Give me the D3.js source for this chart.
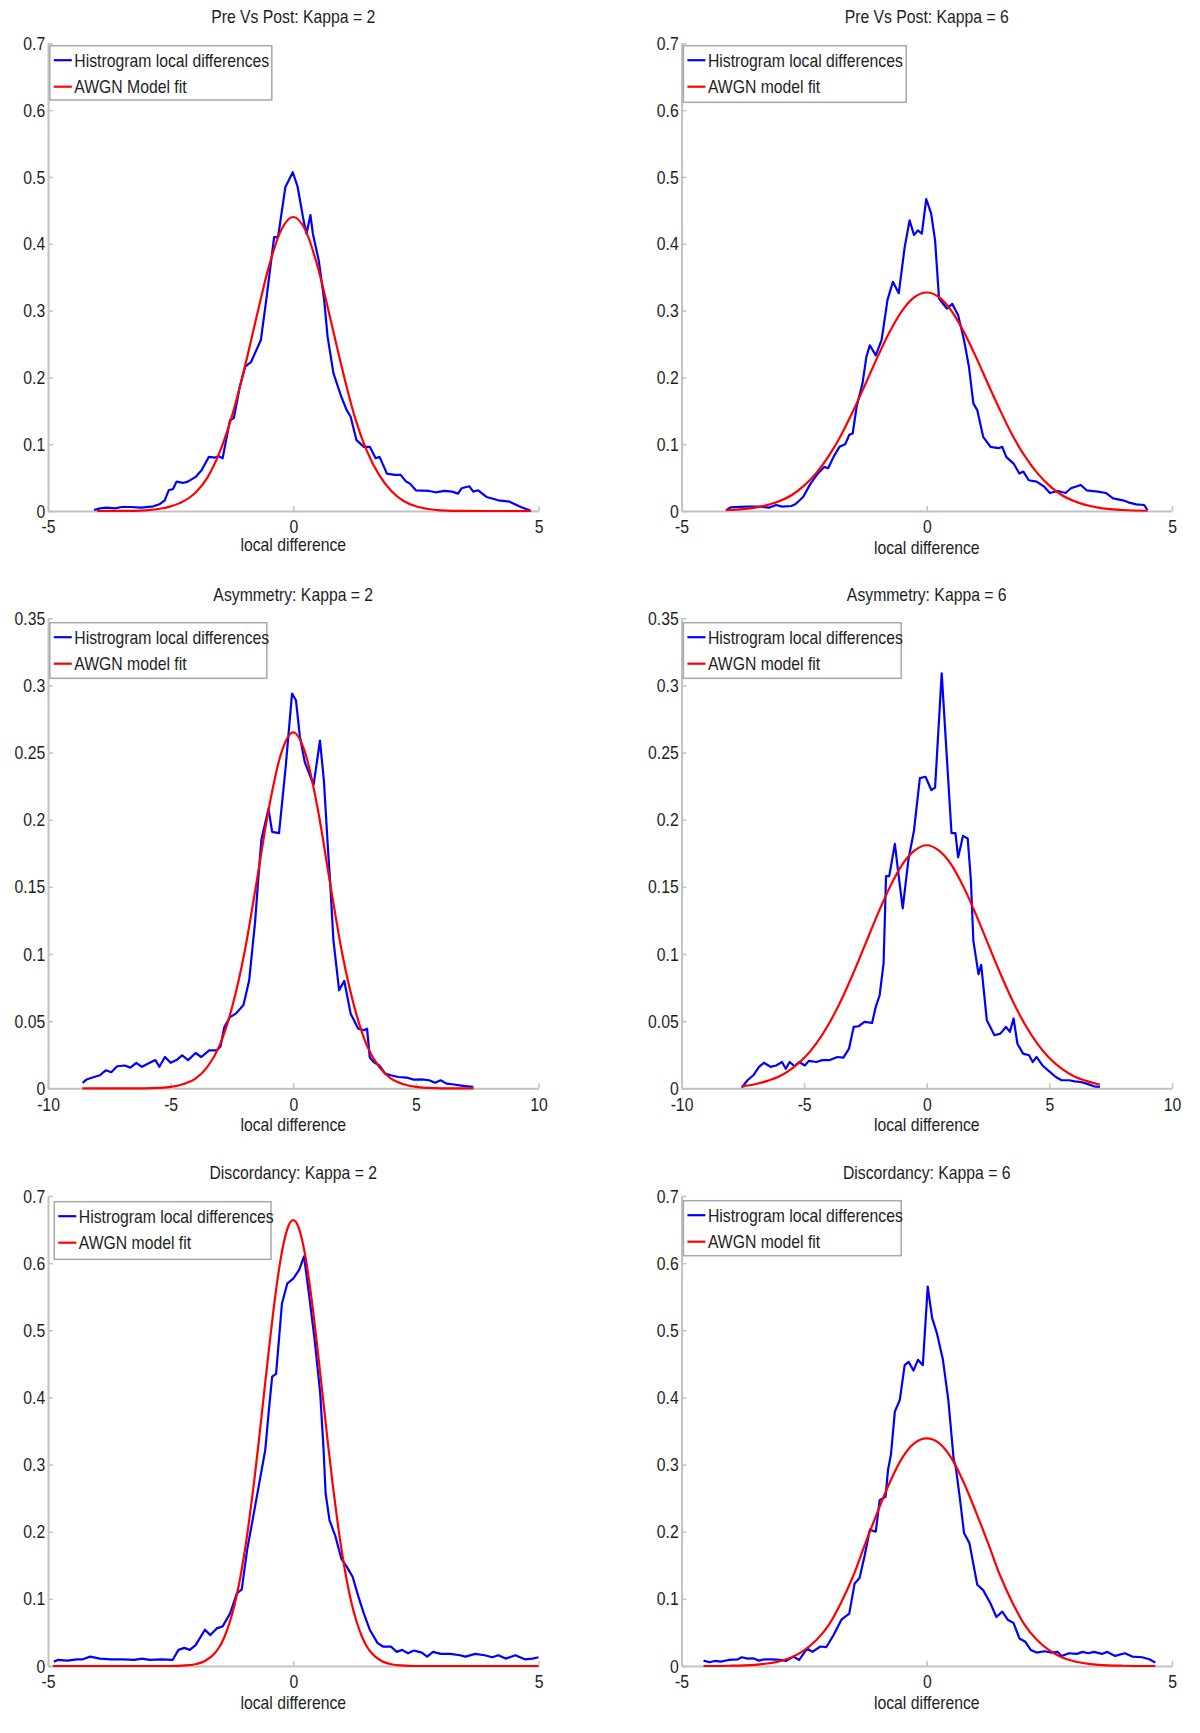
<!DOCTYPE html>
<html><head><meta charset="utf-8">
<script src="https://cdn.jsdelivr.net/npm/d3@7"></script>
<style>body{margin:0;background:#fff}</style>
</head><body><svg id="c" width="1200" height="1733"></svg>
<script>
// ---------------- DATA ----------------
const titles = ["Pre Vs Post: Kappa = 2","Pre Vs Post: Kappa = 6","Asymmetry: Kappa = 2","Asymmetry: Kappa = 6","Discordancy: Kappa = 2","Discordancy: Kappa = 6"];
const histLabels = ["Histrogram local differences","Histrogram local differences","Histrogram local differences","Histrogram local differences","Histrogram local differences","Histrogram local differences"];
const fitLabels = ["AWGN Model fit","AWGN model fit","AWGN model fit","AWGN model fit","AWGN model fit","AWGN model fit"];
const xLabel = "local difference";
const xTicks5 = [-5,0,5];
const xTicks10 = [-10,-5,0,5,10];
const yTicks07 = [0,0.1,0.2,0.3,0.4,0.5,0.6,0.7];
const yTicks035 = [0,0.05,0.1,0.15,0.2,0.25,0.3,0.35];

const hist1 = [[-4.06,0.0015],[-3.94,0.004],[-3.8,0.005],[-3.63,0.004],[-3.5,0.006],[-3.32,0.006],[-3.1,0.005],[-2.85,0.007],[-2.73,0.01],[-2.62,0.016],[-2.54,0.031],[-2.45,0.033],[-2.38,0.044],[-2.25,0.042],[-2.15,0.044],[-1.99,0.051],[-1.87,0.061],[-1.72,0.081],[-1.6,0.08],[-1.52,0.082],[-1.44,0.079],[-1.29,0.136],[-1.21,0.139],[-1.09,0.186],[-0.98,0.216],[-0.86,0.223],[-0.66,0.256],[-0.55,0.316],[-0.39,0.41],[-0.31,0.41],[-0.16,0.485],[-0.01,0.507],[0.09,0.485],[0.21,0.435],[0.27,0.415],[0.35,0.443],[0.40,0.415],[0.52,0.375],[0.63,0.316],[0.70,0.261],[0.82,0.206],[0.98,0.171],[1.09,0.151],[1.17,0.141],[1.29,0.106],[1.44,0.096],[1.56,0.096],[1.68,0.079],[1.76,0.081],[1.91,0.056],[2.07,0.054],[2.19,0.054],[2.3,0.044],[2.38,0.041],[2.5,0.031],[2.77,0.03],[2.9,0.028],[3.08,0.03],[3.24,0.029],[3.36,0.026],[3.43,0.034],[3.59,0.037],[3.67,0.029],[3.77,0.031],[3.94,0.021],[4.18,0.016],[4.41,0.014],[4.64,0.006],[4.84,0.0005]];
const fit1 = [[-4,0],[-3.5,0.0001],[-3,0.001],[-2.75,0.003],[-2.5,0.007],[-2.25,0.014],[-2,0.027],[-1.75,0.05],[-1.5,0.088],[-1.25,0.142],[-1,0.212],[-0.75,0.29],[-0.5,0.365],[-0.25,0.42],[0,0.44],[0.25,0.42],[0.5,0.365],[0.75,0.29],[1,0.212],[1.25,0.142],[1.5,0.09],[1.75,0.054],[2,0.03],[2.25,0.015],[2.5,0.007],[2.75,0.003],[3,0.001],[3.5,0.0001],[4,0],[4.85,0]];

const hist2 = [[-4.08,0.0015],[-4.0,0.0055],[-3.69,0.0065],[-3.38,0.0065],[-3.22,0.005],[-3.07,0.009],[-2.95,0.0065],[-2.76,0.0075],[-2.68,0.01],[-2.52,0.021],[-2.37,0.041],[-2.21,0.057],[-2.09,0.066],[-2.01,0.064],[-1.9,0.081],[-1.78,0.096],[-1.66,0.1],[-1.58,0.114],[-1.51,0.116],[-1.43,0.156],[-1.31,0.191],[-1.23,0.231],[-1.16,0.248],[-1.04,0.233],[-0.92,0.256],[-0.8,0.316],[-0.69,0.343],[-0.57,0.326],[-0.45,0.395],[-0.35,0.435],[-0.26,0.413],[-0.18,0.42],[-0.1,0.415],[-0.01,0.467],[0.09,0.445],[0.17,0.405],[0.25,0.318],[0.41,0.303],[0.52,0.31],[0.64,0.293],[0.76,0.256],[0.86,0.216],[0.95,0.161],[1.03,0.151],[1.15,0.111],[1.3,0.096],[1.46,0.094],[1.54,0.096],[1.62,0.081],[1.77,0.071],[1.89,0.056],[1.97,0.059],[2.08,0.046],[2.24,0.044],[2.4,0.036],[2.51,0.027],[2.67,0.03],[2.83,0.027],[2.94,0.034],[3.14,0.039],[3.26,0.031],[3.49,0.029],[3.65,0.027],[3.8,0.019],[4.0,0.016],[4.11,0.013],[4.27,0.01],[4.43,0.009],[4.5,0.0015]];
const fit2 = [[-4.1,0.0012],[-4,0.0015],[-3.5,0.005],[-3,0.015],[-2.75,0.024],[-2.5,0.038],[-2.25,0.057],[-2,0.082],[-1.75,0.113],[-1.5,0.15],[-1.25,0.19],[-1,0.231],[-0.75,0.269],[-0.5,0.3],[-0.25,0.32],[0,0.327],[0.25,0.32],[0.5,0.3],[0.75,0.269],[1,0.231],[1.25,0.19],[1.5,0.15],[1.75,0.113],[2,0.082],[2.25,0.057],[2.5,0.038],[2.75,0.024],[3,0.015],[3.5,0.005],[4,0.0015],[4.5,0.0004]];

const hist3 = [[-8.59,0.004],[-8.43,0.0065],[-8.12,0.0084],[-7.88,0.0097],[-7.65,0.0134],[-7.42,0.012],[-7.18,0.0164],[-6.87,0.017],[-6.64,0.0154],[-6.4,0.019],[-6.17,0.016],[-5.85,0.019],[-5.62,0.021],[-5.46,0.016],[-5.23,0.0233],[-5.0,0.019],[-4.76,0.021],[-4.53,0.0246],[-4.29,0.021],[-3.98,0.0263],[-3.75,0.0233],[-3.43,0.0283],[-3.12,0.0283],[-2.97,0.031],[-2.81,0.0457],[-2.58,0.053],[-2.34,0.0556],[-2.03,0.062],[-1.8,0.08],[-1.56,0.123],[-1.43,0.155],[-1.3,0.185],[-1.01,0.208],[-0.86,0.191],[-0.58,0.19],[-0.31,0.239],[-0.05,0.294],[0.11,0.289],[0.27,0.262],[0.47,0.243],[0.83,0.226],[1.09,0.259],[1.25,0.229],[1.41,0.18],[1.5,0.155],[1.64,0.11],[1.87,0.073],[2.08,0.08],[2.34,0.0556],[2.65,0.0444],[2.89,0.0432],[3.01,0.0444],[3.12,0.023],[3.28,0.0196],[3.51,0.017],[3.75,0.011],[3.98,0.0097],[4.29,0.0084],[4.61,0.008],[4.92,0.0065],[5.23,0.0067],[5.54,0.006],[5.78,0.0042],[6.01,0.006],[6.25,0.0035],[6.48,0.003],[6.79,0.0022],[7.1,0.0015],[7.34,0.001]];
const fit3 = [[-8.6,0],[-6,0],[-5.5,0.0003],[-5,0.001],[-4.5,0.003],[-4,0.007],[-3.5,0.016],[-3,0.032],[-2.5,0.06],[-2,0.1],[-1.5,0.153],[-1,0.208],[-0.5,0.249],[0,0.265],[0.5,0.249],[1,0.208],[1.5,0.153],[2,0.1],[2.5,0.06],[3,0.032],[3.5,0.016],[4,0.007],[4.5,0.003],[5,0.001],[5.5,0.0003],[6,0],[7.35,0]];

const hist4 = [[-7.54,0.0005],[-7.31,0.006],[-7.07,0.0097],[-6.84,0.0159],[-6.64,0.019],[-6.37,0.016],[-6.14,0.017],[-5.9,0.0196],[-5.75,0.0146],[-5.59,0.0196],[-5.39,0.0164],[-5.2,0.0196],[-4.97,0.017],[-4.81,0.0204],[-4.5,0.0196],[-4.26,0.021],[-3.95,0.021],[-3.64,0.0233],[-3.4,0.0228],[-3.17,0.0295],[-2.98,0.0457],[-2.78,0.0462],[-2.54,0.0494],[-2.23,0.0487],[-2.08,0.0606],[-1.92,0.0693],[-1.76,0.093],[-1.66,0.158],[-1.53,0.158],[-1.3,0.182],[-1.17,0.162],[-0.98,0.134],[-0.75,0.17],[-0.52,0.192],[-0.28,0.231],[-0.05,0.232],[0.19,0.222],[0.34,0.224],[0.61,0.309],[0.81,0.249],[1.01,0.19],[1.17,0.19],[1.28,0.172],[1.48,0.188],[1.67,0.186],[1.8,0.155],[1.9,0.11],[2.11,0.085],[2.22,0.092],[2.45,0.0506],[2.76,0.0395],[3.0,0.0407],[3.23,0.0457],[3.39,0.042],[3.54,0.052],[3.7,0.033],[3.93,0.0258],[4.17,0.0246],[4.32,0.0196],[4.48,0.0233],[4.72,0.017],[5.03,0.012],[5.26,0.0084],[5.5,0.006],[5.81,0.006],[6.04,0.0052],[6.28,0.0047],[6.51,0.0035],[6.82,0.0015],[7.06,0.001]];
const fit4 = [[-7.55,0.0015],[-7,0.003],[-6.5,0.0055],[-6,0.009],[-5.5,0.0146],[-5,0.0225],[-4.5,0.0335],[-4,0.0477],[-3.5,0.0652],[-3,0.0855],[-2.5,0.1075],[-2,0.1297],[-1.5,0.15],[-1,0.1666],[-0.5,0.177],[0,0.181],[0.5,0.177],[1,0.1666],[1.5,0.15],[2,0.1297],[2.5,0.1075],[3,0.0855],[3.5,0.0652],[4,0.0477],[4.5,0.0335],[5,0.0225],[5.5,0.0146],[6,0.009],[6.5,0.0055],[7,0.003],[7.06,0.0028]];

const hist5 = [[-4.88,0.0065],[-4.8,0.009],[-4.61,0.008],[-4.41,0.01],[-4.29,0.01],[-4.14,0.014],[-3.94,0.011],[-3.71,0.01],[-3.47,0.01],[-3.24,0.009],[-3.08,0.011],[-2.93,0.009],[-2.69,0.01],[-2.46,0.009],[-2.34,0.024],[-2.22,0.027],[-2.11,0.024],[-1.99,0.031],[-1.8,0.054],[-1.69,0.046],[-1.56,0.056],[-1.44,0.059],[-1.29,0.078],[-1.15,0.108],[-1.05,0.114],[-0.94,0.173],[-0.78,0.237],[-0.62,0.302],[-0.57,0.322],[-0.51,0.371],[-0.43,0.431],[-0.35,0.435],[-0.23,0.54],[-0.12,0.57],[0.0,0.577],[0.12,0.59],[0.22,0.61],[0.31,0.56],[0.43,0.49],[0.55,0.406],[0.62,0.32],[0.66,0.257],[0.74,0.217],[0.86,0.193],[0.98,0.16],[1.09,0.148],[1.21,0.133],[1.33,0.103],[1.44,0.078],[1.56,0.054],[1.72,0.034],[1.83,0.029],[1.99,0.029],[2.11,0.021],[2.22,0.024],[2.34,0.019],[2.46,0.023],[2.62,0.02],[2.73,0.014],[2.85,0.021],[3.01,0.018],[3.2,0.018],[3.4,0.016],[3.51,0.014],[3.71,0.018],[3.9,0.016],[4.06,0.013],[4.18,0.016],[4.33,0.011],[4.53,0.016],[4.72,0.01],[4.88,0.011],[5.0,0.013]];
const fit5 = [[-4.9,0],[-2.5,0],[-2.2,0.0008],[-2,0.0026],[-1.8,0.0074],[-1.6,0.019],[-1.5,0.029],[-1.4,0.044],[-1.3,0.064],[-1.2,0.09],[-1.1,0.124],[-1,0.166],[-0.9,0.216],[-0.8,0.273],[-0.7,0.336],[-0.6,0.403],[-0.5,0.469],[-0.4,0.532],[-0.3,0.586],[-0.2,0.628],[-0.1,0.655],[0,0.664],[0.1,0.655],[0.2,0.628],[0.3,0.586],[0.4,0.532],[0.5,0.469],[0.6,0.403],[0.7,0.336],[0.8,0.273],[0.9,0.216],[1,0.166],[1.1,0.124],[1.2,0.09],[1.3,0.064],[1.4,0.044],[1.5,0.029],[1.6,0.019],[1.8,0.0074],[2,0.0026],[2.2,0.0008],[2.5,0],[5,0]];

const hist6 = [[-4.55,0.008],[-4.43,0.0055],[-4.32,0.0075],[-4.2,0.0065],[-4.04,0.009],[-3.85,0.01],[-3.77,0.013],[-3.65,0.011],[-3.54,0.0115],[-3.42,0.008],[-3.3,0.01],[-3.15,0.01],[-2.99,0.009],[-2.87,0.0075],[-2.72,0.014],[-2.6,0.009],[-2.44,0.026],[-2.33,0.021],[-2.17,0.029],[-2.05,0.028],[-1.9,0.046],[-1.74,0.069],[-1.58,0.078],[-1.47,0.123],[-1.37,0.131],[-1.27,0.163],[-1.16,0.203],[-1.04,0.2],[-0.96,0.247],[-0.84,0.252],[-0.79,0.292],[-0.73,0.315],[-0.65,0.379],[-0.55,0.396],[-0.45,0.448],[-0.37,0.453],[-0.27,0.44],[-0.18,0.456],[-0.08,0.448],[0.02,0.565],[0.11,0.518],[0.21,0.495],[0.33,0.456],[0.44,0.396],[0.55,0.307],[0.59,0.297],[0.68,0.247],[0.76,0.198],[0.87,0.183],[1.03,0.121],[1.15,0.113],[1.3,0.093],[1.42,0.073],[1.54,0.081],[1.65,0.069],[1.77,0.064],[1.89,0.041],[2.01,0.036],[2.12,0.024],[2.24,0.02],[2.4,0.022],[2.55,0.02],[2.67,0.021],[2.75,0.015],[2.9,0.019],[3.06,0.018],[3.18,0.021],[3.29,0.019],[3.41,0.021],[3.57,0.018],[3.68,0.021],[3.84,0.015],[4.04,0.019],[4.19,0.014],[4.39,0.013],[4.54,0.01],[4.66,0.005]];
const fit6 = [[-4.55,0],[-4,0.0004],[-3.5,0.0018],[-3,0.0071],[-2.75,0.0132],[-2.5,0.0232],[-2.25,0.0386],[-2,0.061],[-1.75,0.094],[-1.5,0.134],[-1.25,0.183],[-1,0.23],[-0.75,0.274],[-0.5,0.31],[-0.25,0.332],[0,0.339],[0.25,0.332],[0.5,0.31],[0.75,0.274],[1,0.23],[1.25,0.183],[1.5,0.134],[1.75,0.094],[2,0.061],[2.25,0.0386],[2.5,0.0232],[2.75,0.0132],[3,0.0071],[3.5,0.0018],[4,0.0004],[4.5,0],[4.66,0]];

const xDomains = [[-5,5],[-5,5],[-10,10],[-10,10],[-5,5],[-5,5]];
const yDomains = [[0,0.7],[0,0.7],[0,0.35],[0,0.35],[0,0.7],[0,0.7]];
const xTickSets = [xTicks5,xTicks5,xTicks10,xTicks10,xTicks5,xTicks5];
const yTickSets = [yTicks07,yTicks07,yTicks035,yTicks035,yTicks07,yTicks07];
const hists = [hist1,hist2,hist3,hist4,hist5,hist6];
const fits = [fit1,fit2,fit3,fit4,fit5,fit6];

// ---------------- LAYOUT ----------------
const L = [
  {x0:48,x1:538.5,yT:43.3,yB:511,tY:22.7,lY:551,bx:49.8,by:45.7,bw:222,bh:54.3},
  {x0:681.5,x1:1172,yT:43.3,yB:511,tY:22.7,lY:554,bx:683.4,by:45.7,bw:222.8,bh:56.6},
  {x0:48,x1:538.5,yT:618.3,yB:1088.3,tY:600.7,lY:1131,bx:49.8,by:622.7,bw:217,bh:55.6},
  {x0:681.5,x1:1172,yT:618.3,yB:1088.3,tY:600.7,lY:1131,bx:683.4,by:622.7,bw:217.8,bh:55.6},
  {x0:48,x1:538.5,yT:1196,yB:1666,tY:1179,lY:1709,bx:54.3,by:1201.7,bw:216.7,bh:57.6},
  {x0:681.5,x1:1172,yT:1196,yB:1666,tY:1179,lY:1709,bx:683.4,by:1200.7,bw:217.8,bh:55}
];
const FONT = '"Liberation Sans", Arial, Helvetica, sans-serif';
const FS = 19, SX = 0.83;
const AXC = "#c2c2c2", TXC = "#1e1e1e";

const svg = d3.select("#c");
svg.append("rect").attr("width",1200).attr("height",1733).attr("fill","#fff");

function txt(g, x, y, s, anchor){
  return g.append("text").attr("transform",`translate(${x},${y}) scale(${SX},1)`)
    .attr("text-anchor",anchor).attr("font-family",FONT).attr("font-size",FS).attr("fill",TXC).text(s);
}

for(let i=0;i<6;i++){
  const l = L[i];
  const x = d3.scaleLinear().domain(xDomains[i]).range([l.x0,l.x1]);
  const y = d3.scaleLinear().domain(yDomains[i]).range([l.yB,l.yT]);
  const g = svg.append("g");

  const ax = g.append("g").attr("transform",`translate(0,${l.yB})`)
    .call(d3.axisBottom(x).tickValues(xTickSets[i]).tickFormat(d=>String(d)).tickSizeInner(-5).tickSizeOuter(0).tickPadding(8.8));
  const ay = g.append("g").attr("transform",`translate(${l.x0},0)`)
    .call(d3.axisLeft(y).tickValues(yTickSets[i]).tickFormat(d=>String(d)).tickSizeInner(-5).tickSizeOuter(0).tickPadding(3.3));
  [ax,ay].forEach(a=>{
    a.select(".domain").attr("stroke",AXC).attr("stroke-width",2);
    a.selectAll(".tick line").attr("stroke",AXC).attr("stroke-width",1.5);
    a.selectAll(".tick text").attr("fill",TXC).attr("font-size",FS).attr("font-family",FONT)
      .attr("transform",`scale(${SX},1)`);
  });

  const line = d3.line().x(d=>x(d[0])).y(d=>y(d[1]));
  g.append("path").datum(hists[i]).attr("d",line).attr("fill","none")
    .attr("stroke","#0000ff").attr("stroke-width",2.2).attr("stroke-linejoin","round");
  const fline = d3.line().x(d=>x(d[0])).y(d=>y(d[1])).curve(d3.curveMonotoneX);
  g.append("path").datum(fits[i]).attr("d",fline).attr("fill","none")
    .attr("stroke","#ff0000").attr("stroke-width",2.2);

  txt(g,(l.x0+l.x1)/2,l.tY,titles[i],"middle");
  txt(g,(l.x0+l.x1)/2,l.lY,xLabel,"middle");

  const lg = g.append("g").attr("transform",`translate(${l.bx},${l.by})`);
  lg.append("rect").attr("width",l.bw).attr("height",l.bh).attr("fill","#fff")
    .attr("stroke","#a8a8a8").attr("stroke-width",1.5);
  const rows = [[histLabels[i],"#0000ff",14.5],[fitLabels[i],"#ff0000",41]];
  rows.forEach(r=>{
    lg.append("line").attr("x1",4).attr("x2",22).attr("y1",r[2]).attr("y2",r[2])
      .attr("stroke",r[1]).attr("stroke-width",2.2);
    txt(lg,24.5,r[2]+6.6,r[0],"start");
  });
}
</script>
</body></html>
